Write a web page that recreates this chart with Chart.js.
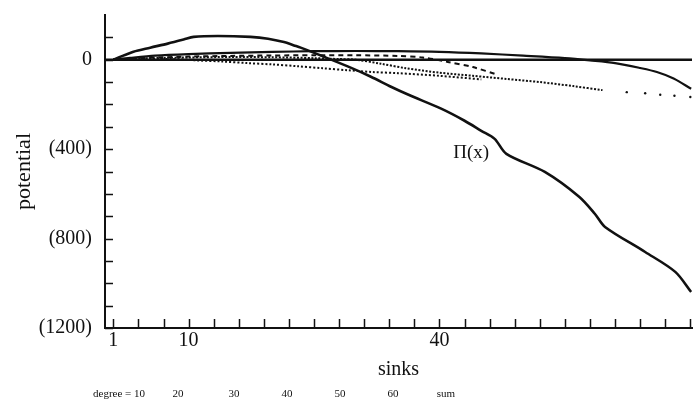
<!DOCTYPE html>
<html>
<head>
<meta charset="utf-8">
<script src="https://cdn.jsdelivr.net/npm/chart.js@4.4.1/dist/chart.umd.min.js"></script>
<style>
html,body{margin:0;padding:0;background:#fff;}
#wrap{width:696px;height:405px;}
</style>
</head>
<body>
<div id="wrap"><canvas id="c" width="696" height="405"></canvas></div>
<script>
// ---- data ----
const piSinks = [1, 1.5, 3.4, 5.4, 7.5, 9.4, 10.6, 13.5, 17.4, 19.5, 21.4, 22.6, 23.4, 26.2, 29.1, 31.8, 34.2, 36.3, 40.2, 43, 45, 46.6, 48, 52.6, 56.7, 58.6, 59.8, 64.6, 68.2, 70.1];
const piPotential = [0, 8, 36, 54, 72, 90, 102, 106, 102, 94, 79, 64, 54, 13, -31, -76, -121, -157, -219, -273, -318, -354, -421, -502, -613, -690, -748, -860, -949, -1039];

const sumSinks = [1, 3, 6, 10, 15, 20, 25, 30, 35, 40, 45, 50, 55, 58, 61, 64, 66, 68, 70.1];
const sumPotential = [0, 8, 18, 25, 31, 35, 38, 39, 38, 35, 28, 18, 7, -3, -15, -37, -55, -84, -130];

const deg10Sinks = [1, 5, 8, 11, 14, 17, 20, 23, 26, 29, 32, 35, 40, 45];
const deg10Potential = [0, 2, 3, -3, -8, -15, -21, -29, -38, -47, -55, -60, -72, -88];

const deg20Sinks = [1, 5, 10, 15, 20, 25, 28, 30, 33, 36, 40, 44, 48, 52, 56, 59.5];
const deg20Potential = [0, 6, 10, 12, 11, 7, 3, 0, -18, -38, -58, -72, -86, -100, -118, -136];

const deg30Sinks = [1, 5, 10, 15, 20, 25, 30, 35, 38, 41, 44, 47];
const deg30Potential = [0, 8, 14, 17, 19, 20, 20, 17, 10, -10, -33, -68];

const deg40Sinks = [62.4, 64.6, 66.4, 68.1, 70];
const deg40Potential = [-145, -150, -157, -161, -167];

const zeroSinks = [0, 71];
const zeroPotential = [0, 0];

const xTickValues = [1, 4, 7, 10, 13, 16, 19, 22, 25, 28, 31, 34, 37, 40, 43, 46, 49, 52, 55, 58, 61, 64, 67, 70];
const xTickLabels = {1: '1', 10: '10', 40: '40'};
const yTickValues = [-1200, -1100, -1000, -900, -800, -700, -600, -500, -400, -300, -200, -100, 0, 100];
const yTickLabels = {'0': '0', '-400': '(400)', '-800': '(800)', '-1200': '(1200)'};

const legendLabels = ['degree = 10', '20', '30', '40', '50', '60', 'sum'];
const piLabel = {text: 'Π(x)', sinks: 43.8, potential: -418};

// ---- layout / style ----
const legendCenters = [119, 178, 234, 287, 340, 393, 446];
const SERIF = '"Liberation Serif", "Times New Roman", serif';
const INK = '#111';

const pts = (xs, ys) => xs.map((x, i) => ({x: x, y: ys[i]}));

const inwardTicks = {
  id: 'inwardTicks',
  afterDatasetsDraw(chart) {
    const ctx = chart.ctx, xs = chart.scales.x, ys = chart.scales.y, a = chart.chartArea;
    ctx.save();
    ctx.strokeStyle = INK;
    ctx.lineWidth = 1.5;
    ctx.beginPath();
    xTickValues.forEach(v => {
      const px = Math.round(xs.getPixelForValue(v)) + 0.5;
      ctx.moveTo(px, a.bottom);
      ctx.lineTo(px, a.bottom - 9);
    });
    yTickValues.forEach(v => {
      const py = Math.round(ys.getPixelForValue(v)) + 0.5;
      ctx.moveTo(a.left, py);
      ctx.lineTo(a.left + 8, py);
    });
    ctx.stroke();
    ctx.fillStyle = INK;
    ctx.font = '19px ' + SERIF;
    ctx.textAlign = 'center';
    ctx.textBaseline = 'middle';
    ctx.fillText(piLabel.text, xs.getPixelForValue(piLabel.sinks), ys.getPixelForValue(piLabel.potential));
    ctx.font = '11px ' + SERIF;
    legendLabels.forEach((t, i) => ctx.fillText(t, legendCenters[i], 394));
    ctx.restore();
  }
};

new Chart(document.getElementById('c'), {
  type: 'scatter',
  data: {
    datasets: [
      {label: 'Π(x)', data: pts(piSinks, piPotential), showLine: true, borderColor: INK, borderWidth: 2.6, pointRadius: 0, tension: 0.3},
      {label: 'sum', data: pts(sumSinks, sumPotential), showLine: true, borderColor: INK, borderWidth: 2.2, pointRadius: 0, tension: 0.3},
      {label: 'degree = 10', data: pts(deg10Sinks, deg10Potential), showLine: true, borderColor: INK, borderWidth: 2, borderDash: [2, 2], pointRadius: 0, tension: 0.3},
      {label: '20', data: pts(deg20Sinks, deg20Potential), showLine: true, borderColor: INK, borderWidth: 2, borderDash: [2, 1.6], pointRadius: 0, tension: 0.3},
      {label: '30', data: pts(deg30Sinks, deg30Potential), showLine: true, borderColor: INK, borderWidth: 2, borderDash: [5, 4], pointRadius: 0, tension: 0.3},
      {label: '40', data: pts(deg40Sinks, deg40Potential), showLine: false, backgroundColor: INK, borderColor: INK, pointRadius: 1.2, borderWidth: 0},
      {label: 'zero', data: pts(zeroSinks, zeroPotential), showLine: true, borderColor: INK, borderWidth: 2.6, pointRadius: 0}
    ]
  },
  options: {
    responsive: false,
    animation: false,
    devicePixelRatio: 1,
    layout: {padding: {top: 15, right: 0, left: 0, bottom: 0}},
    plugins: {legend: {display: false}, tooltip: {enabled: false}},
    scales: {
      x: {
        type: 'linear', min: 0, max: 70.2,
        afterBuildTicks: s => { s.ticks = xTickValues.map(v => ({value: v})); },
        afterFit: s => { s.height = 77; s.paddingLeft = 0; s.paddingRight = 0; },
        ticks: {autoSkip: false, maxRotation: 0, padding: 1, color: INK,
                font: {family: SERIF, size: 20},
                callback: v => xTickLabels[v] ?? ''},
        grid: {display: true, drawOnChartArea: false, drawTicks: false},
        border: {display: true, color: INK, width: 2},
        title: {display: true, text: 'sinks', color: INK, font: {family: SERIF, size: 20},
                padding: {top: 0, bottom: 23}}
      },
      y: {
        type: 'linear', min: -1200, max: 200,
        afterBuildTicks: s => { s.ticks = yTickValues.map(v => ({value: v})); },
        afterFit: s => { s.width = 105; s.paddingTop = 0; s.paddingBottom = 0; },
        ticks: {autoSkip: false, padding: 13, color: INK,
                font: {family: SERIF, size: 20},
                callback: v => yTickLabels[String(v)] ?? ''},
        grid: {display: true, drawOnChartArea: false, drawTicks: false},
        border: {display: true, color: INK, width: 2},
        title: {display: true, text: 'potential', color: INK, font: {family: SERIF, size: 22},
                padding: {top: 11, bottom: 0}}
      }
    }
  },
  plugins: [inwardTicks]
});
</script>
</body>
</html>
